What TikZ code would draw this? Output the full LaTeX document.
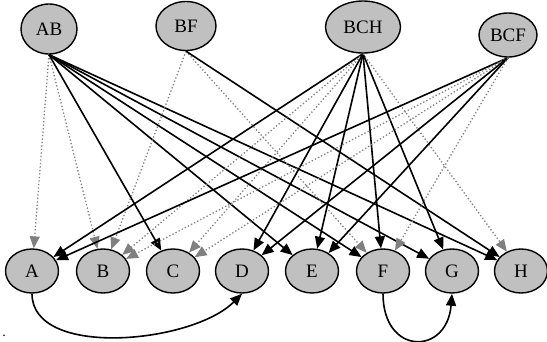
\documentclass[tikz,border=0pt]{standalone}
\usepackage{fontspec}
\setmainfont{Liberation Serif}
\usepackage{tikz}
\usetikzlibrary{arrows.meta, shapes.geometric, positioning}
\definecolor{nodegray}{RGB}{192,192,192}
\definecolor{edgegray}{RGB}{128,128,128}
\tikzset{
	itemnode/.style={ellipse, draw, line width=1.4pt, fill=nodegray, inner sep=0pt,
		font=\fontsize{19}{22}\selectfont}
}
\tikzset{
	ruleedge/.style={line width=1.6pt, -{Triangle[length=12pt,width=10pt]}}
}
\tikzset{
	weakedge/.style={line width=1.3pt, edgegray, dash pattern=on 1.3pt off 2.2pt,
		-{Triangle[length=12pt,width=10pt]}}
}

\begin{document}
\begin{tikzpicture}[x=1pt, y=-1pt]
      \useasboundingbox (0,0) rectangle (547,341);
      % top row
      \node[itemnode, minimum width=56pt, minimum height=50pt] (AB) at (49,29) {AB};
      \node[itemnode, minimum width=60pt, minimum height=49pt] (BF) at (186,26) {BF};
      \node[itemnode, minimum width=75pt, minimum height=52pt] (BCH) at (363,27) {BCH};
      \node[itemnode, minimum width=58pt, minimum height=44pt] (BCF) at (508,35) {BCF};
      % bottom row
      \node[itemnode, minimum width=53pt, minimum height=44pt] (A) at (32,271) {A};
      \node[itemnode, minimum width=53pt, minimum height=44pt] (B) at (103,271) {B};
      \node[itemnode, minimum width=53pt, minimum height=44pt] (C) at (173,271) {C};
      \node[itemnode, minimum width=53pt, minimum height=44pt] (D) at (242,271) {D};
      \node[itemnode, minimum width=53pt, minimum height=44pt] (E) at (312,271) {E};
      \node[itemnode, minimum width=53pt, minimum height=44pt] (F) at (383,271) {F};
      \node[itemnode, minimum width=53pt, minimum height=44pt] (G) at (452,271) {G};
      \node[itemnode, minimum width=53pt, minimum height=44pt] (H) at (521,271) {H};
      \node[inner sep=0pt, font=\fontsize{14}{16}\selectfont] (dot) at (4,336) {.};
      % from AB
      \draw[weakedge] (AB.south) -- (A);
      \draw[weakedge] (AB.south) -- (B);
      \draw[ruleedge] (AB.south) -- (C);
      \draw[ruleedge] (AB.south) -- (E);
      \draw[ruleedge] (AB.south) -- (F);
      \draw[ruleedge] (AB.south) -- (G);
      \draw[ruleedge] (AB.south) -- (H);
      % from BF
      \draw[weakedge] (BF.south) -- (B);
      \draw[weakedge] (BF.south) -- (F);
      \draw[ruleedge] (BF.south) -- (H);
      % from BCH
      \draw[ruleedge] (BCH.south) -- (A);
      \draw[weakedge] (BCH.south) -- (B);
      \draw[weakedge] (BCH.south) -- (C);
      \draw[ruleedge] (BCH.south) -- (D);
      \draw[ruleedge] (BCH.south) -- (E);
      \draw[ruleedge] (BCH.south) -- (F);
      \draw[ruleedge] (BCH.south) -- (G);
      \draw[weakedge] (BCH.south) -- (H);
      % from BCF
      \draw[ruleedge] (BCF.south) -- (A);
      \draw[weakedge] (BCF.south) -- (B);
      \draw[weakedge] (BCF.south) -- (C);
      \draw[ruleedge] (BCF.south) -- (D);
      \draw[ruleedge] (BCF.south) -- (E);
      \draw[weakedge] (BCF.south) -- (F);
      % bottom arcs
      \draw[ruleedge] (A.south) .. controls +(0,65) and +(-50,50) .. (D.south);
      \draw[ruleedge] (F.south) .. controls +(0,62) and +(-5,62) .. (G.south);
    \end{tikzpicture}
\end{document}
